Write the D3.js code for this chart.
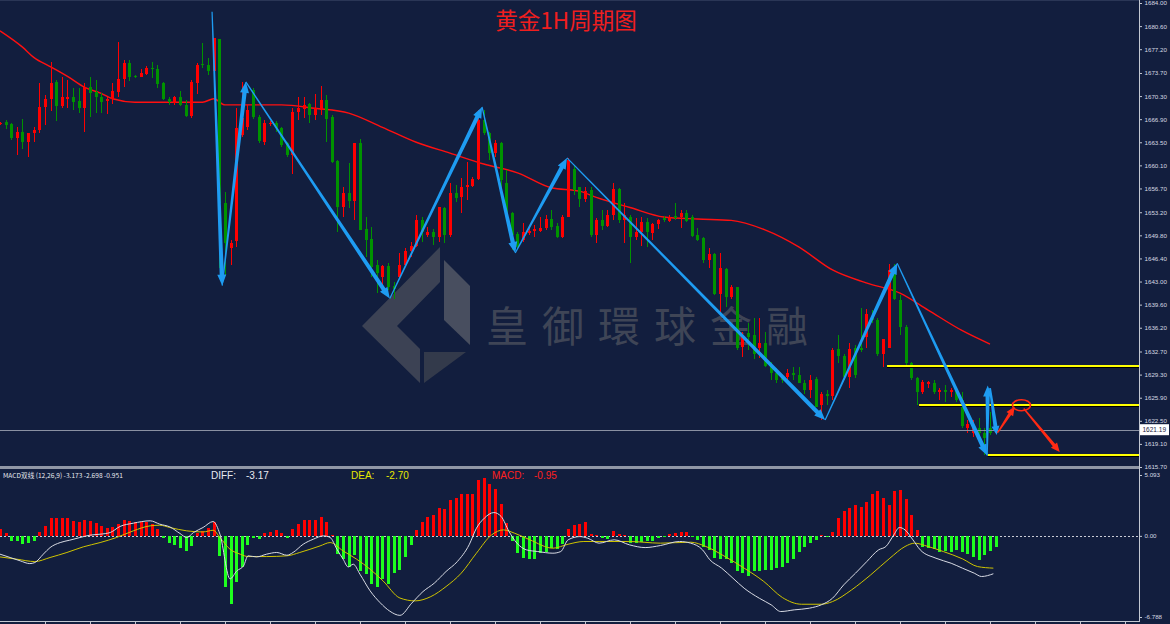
<!DOCTYPE html>
<html>
<head>
<meta charset="utf-8">
<script src="https://cdn.jsdelivr.net/npm/d3@7"></script>
<style>
  body { margin: 0; background: #121e3e; }
  svg { display: block; }
</style>
</head>
<body>
<div id="chart"></div>
<script>
// ---- data ----
const open = [1666.2,1666.5,1666.2,1664.1,1665.0,1663.5,1664.8,1665.3,1668.7,1669.9,1672.4,1668.8,1669.9,1670.1,1669.6,1668.5,1671.6,1670.9,1670.1,1669.6,
  1669.9,1670.9,1672.8,1675.2,1673.2,1673.1,1673.5,1674.4,1674.3,1672.2,1669.9,1669.3,1670.1,1669.0,1667.4,1672.2,1675.0,1674.9,1674.0,1678.7,
  1654.5,1647.9,1648.9,1664.6,1665.7,1671.2,1667.2,1663.5,1666.2,1666.3,1665.6,1663.4,1661.6,1667.9,1668.4,1669.1,1667.5,1668.2,1669.7,1667.2,
  1660.7,1653.9,1656.0,1654.8,1663.4,1650.7,1649.2,1645.4,1643.6,1645.3,1642.3,1643.6,1645.4,1647.5,1648.2,1652.0,1649.8,1650.3,1649.5,1653.8,
  1649.8,1656.0,1655.4,1656.9,1657.0,1658.1,1666.8,1664.8,1661.9,1663.4,1657.5,1653.1,1650.0,1649.1,1650.1,1650.4,1650.4,1650.9,1652.2,1651.2,
  1649.5,1652.5,1659.5,1656.9,1655.1,1656.5,1649.8,1652.0,1651.2,1652.8,1656.6,1652.0,1652.5,1649.5,1650.3,1651.7,1650.1,1651.4,1652.3,1651.9,
  1652.6,1652.5,1653.1,1652.5,1649.8,1649.4,1646.1,1647.0,1641.1,1644.8,1640.7,1642.2,1633.3,1635.4,1635.1,1633.2,1633.9,1630.7,1629.6,1628.8,
  1628.9,1629.5,1629.2,1628.0,1627.1,1628.6,1624.8,1626.5,1626.1,1633.0,1632.1,1628.9,1633.2,1633.2,1634.8,1637.7,1637.4,1632.4,1633.2,1645.1,
  1640.3,1636.3,1631.0,1628.8,1626.8,1627.9,1628.0,1626.8,1627.1,1626.7,1627.1,1625.5,1621.5,1620.7,1621.4,1620.7,1621.5,1620.7];
const high = [1666.5,1666.8,1666.3,1665.7,1666.9,1664.8,1665.7,1672.2,1670.4,1675.3,1672.7,1673.1,1672.7,1671.5,1671.5,1672.2,1673.1,1672.7,1670.7,1670.1,
  1672.2,1678.3,1675.6,1675.6,1673.4,1674.3,1674.7,1675.3,1674.9,1672.4,1670.1,1670.3,1671.0,1669.7,1672.7,1675.2,1678.1,1675.9,1678.8,1678.7,
  1656.2,1649.1,1668.5,1672.4,1669.0,1671.5,1667.5,1666.8,1666.6,1666.6,1665.7,1663.5,1668.5,1670.1,1670.1,1669.3,1670.6,1671.8,1670.4,1667.5,
  1660.9,1656.9,1660.4,1663.4,1664.0,1652.5,1651.0,1646.1,1645.4,1645.7,1643.0,1647.2,1647.9,1648.8,1652.8,1652.5,1651.0,1650.7,1653.9,1653.9,
  1657.5,1657.2,1658.2,1660.6,1658.4,1668.2,1668.2,1665.0,1663.8,1663.5,1659.4,1653.2,1650.3,1651.6,1651.0,1651.3,1652.5,1652.8,1653.5,1651.6,
  1652.8,1661.2,1660.1,1656.9,1656.9,1656.9,1652.3,1653.5,1653.5,1657.5,1656.8,1654.5,1652.8,1652.3,1652.5,1652.3,1651.6,1652.2,1652.6,1652.8,
  1654.5,1653.5,1653.5,1652.8,1650.9,1649.5,1647.9,1647.2,1647.2,1645.0,1642.5,1642.2,1635.5,1636.9,1637.6,1637.7,1635.5,1631.1,1630.2,1628.9,
  1630.1,1630.4,1630.4,1628.5,1629.3,1628.9,1626.8,1627.0,1633.2,1635.1,1632.4,1633.9,1633.6,1639.1,1638.9,1638.8,1637.7,1634.6,1645.6,1645.6,
  1641.0,1636.6,1631.1,1628.9,1628.5,1628.3,1628.5,1627.3,1627.7,1627.3,1627.3,1626.7,1622.6,1622.6,1622.9,1621.5,1623.8,1621.4];
const low = [1666.0,1665.4,1663.8,1661.6,1662.5,1661.3,1663.5,1664.8,1666.0,1668.1,1666.6,1668.5,1668.5,1668.2,1667.8,1665.0,1667.2,1667.8,1667.8,1667.6,
  1669.1,1670.1,1671.6,1672.5,1672.9,1673.1,1673.4,1672.9,1671.5,1669.7,1669.0,1669.0,1668.8,1667.2,1667.1,1670.6,1674.4,1673.4,1673.4,1645.0,
  1643.9,1645.4,1648.1,1664.3,1665.3,1666.9,1663.4,1663.1,1665.9,1665.0,1662.8,1661.3,1658.9,1666.8,1667.1,1666.3,1666.8,1667.5,1663.5,1660.4,
  1650.3,1652.5,1653.8,1652.0,1650.6,1646.6,1643.6,1641.3,1641.3,1641.7,1640.5,1643.5,1645.1,1646.6,1648.1,1648.8,1649.5,1648.4,1648.8,1648.6,
  1649.5,1654.7,1653.1,1655.0,1656.9,1657.9,1664.6,1660.9,1661.3,1656.2,1652.8,1647.6,1647.9,1648.8,1649.8,1649.5,1650.3,1650.6,1650.6,1649.4,
  1649.4,1652.5,1655.7,1653.9,1654.7,1649.5,1648.6,1650.6,1651.0,1652.0,1651.6,1648.6,1645.7,1649.1,1648.2,1648.1,1649.1,1650.7,1651.7,1651.7,
  1652.0,1650.9,1651.7,1649.5,1648.9,1645.8,1645.0,1641.0,1638.3,1639.2,1640.5,1632.9,1631.9,1632.9,1631.6,1631.7,1630.4,1628.5,1628.0,1628.0,
  1628.0,1628.5,1628.0,1626.5,1625.8,1624.5,1622.6,1624.8,1625.5,1631.0,1628.5,1627.3,1628.8,1632.6,1633.2,1636.9,1632.1,1630.4,1633.2,1640.3,
  1635.1,1630.7,1628.5,1624.8,1626.5,1627.4,1626.5,1625.5,1625.2,1626.0,1625.2,1621.5,1620.7,1620.1,1619.6,1617.4,1620.4,1620.5];
const close = [1666.3,1666.0,1664.1,1665.0,1663.5,1664.8,1665.3,1668.7,1669.9,1672.2,1668.8,1670.1,1670.1,1669.4,1668.5,1671.6,1670.7,1670.1,1669.4,1669.9,
  1671.0,1672.8,1675.2,1673.1,1673.1,1673.7,1674.4,1674.3,1672.1,1669.9,1669.4,1670.1,1669.0,1667.4,1672.4,1674.9,1674.9,1674.0,1678.8,1654.5,
  1648.6,1648.6,1665.6,1667.1,1668.2,1667.2,1663.7,1666.3,1666.3,1665.6,1663.1,1661.6,1667.9,1668.5,1669.0,1667.5,1668.5,1669.7,1666.9,1660.6,
  1653.9,1656.0,1654.8,1663.4,1650.6,1649.1,1645.1,1644.2,1645.3,1642.2,1641.9,1645.4,1647.5,1648.2,1652.0,1650.3,1650.3,1649.5,1653.9,1649.8,
  1656.0,1655.3,1656.9,1657.2,1658.1,1666.8,1664.8,1661.9,1663.4,1657.9,1653.1,1649.8,1648.1,1650.3,1650.4,1650.7,1650.9,1652.2,1651.0,1649.5,
  1652.5,1660.9,1656.5,1655.1,1656.3,1649.8,1652.0,1651.2,1652.8,1656.6,1652.0,1652.8,1649.5,1650.3,1651.7,1650.3,1651.4,1652.0,1652.0,1652.5,
  1652.3,1653.1,1651.9,1649.7,1649.1,1646.1,1647.0,1641.1,1645.0,1640.7,1642.2,1633.2,1634.8,1634.8,1632.4,1633.9,1630.5,1629.6,1628.5,1628.5,
  1629.6,1629.2,1628.0,1627.0,1628.5,1624.6,1626.5,1626.1,1632.9,1632.1,1628.9,1633.0,1629.2,1632.9,1638.2,1637.4,1632.4,1634.6,1644.7,1640.4,
  1636.3,1631.0,1628.8,1626.7,1628.2,1628.2,1626.8,1627.1,1626.8,1627.1,1625.5,1621.8,1622.0,1621.5,1620.7,1619.9,1620.7,1621.2];

// moving average, sampled [candle index, price]
const maPts = [[0,1679.9],[4,1677.5],[6,1676.0],[9,1674.6],[12,1673.2],[15,1671.6],[18,1670.7],[20,1669.9],[24,1669.4],[30,1669.4],
  [36,1669.4],[38,1669.9],[40,1669.0],[44,1669.0],[50,1669.0],[56,1668.5],[62,1667.8],[68,1665.7],[74,1663.5],[80,1661.9],
  [86,1660.3],[92,1659.0],[98,1656.8],[103,1656.3],[106,1655.4],[112,1653.9],[118,1652.5],[124,1652.2],[130,1652.0],[136,1650.6],
  [142,1648.1],[148,1644.7],[154,1642.8],[160,1641.3],[165,1638.8],[171,1635.8],[176,1633.8]];

const macdHist = [0.55,0.2,-0.4,-0.45,-0.7,-0.6,-0.4,0.3,0.84,1.53, 1.53,1.53,1.53,1.26,1.12,1.31,1.26,1.06,0.84,0.7,
  0.75,0.98,1.34,1.26,1.17,1.2,1.12,0.98,0.56,-0.14, -0.61,-0.75,-0.98,-1.26,-0.84,0.2,0.4,0.65,1.2,-1.67,
  -4.3,-5.66,-3.9,-2.6,-0.78,-0.2,-0.28,0.2,0.36,0.47, 0.22,-0.2,0.56,1.03,1.34,1.34,1.34,1.59,1.12,0.1,
  -1.53,-1.95,-2.6,-1.6,-2.93,-3.2,-4.0,-4.3,-3.6,-4.0, -3.07,-2.85,-1.8,-0.8,0.5,1.14,1.56,1.76,2.37,2.26,
  2.96,3.2,3.49,3.54,3.54,4.66,4.88,4.32,3.93,2.65, 1.06,-0.42,-1.45,-1.87,-1.92,-1.92,-1.45,-1.31,-0.98,-1.09,
  -0.7,0.56,0.92,0.98,1.12,0.14,0.05,-0.2,-0.25,0.42, 0.14,0.08,-0.6,-0.6,-0.53,-0.47,-0.42,-0.2,-0.1,0.14,
  0.22,0.36,0.36,-0.1,-0.33,-0.9,-1.17,-1.87,-1.92,-1.92, -2.29,-2.98,-3.12,-3.32,-2.98,-2.93,-2.85,-2.85,-2.7,-2.57,
  -2.29,-1.92,-1.31,-0.9,-0.6,-0.33,0.05,-0.1,0.36,1.48, 2.12,2.37,2.59,2.45,2.87,3.49,3.77,3.15,2.59,3.77,
  3.85,3.1,1.76,0.5,-0.9,-1.03,-1.09,-1.37,-1.26,-1.31, -1.17,-1.37,-1.53,-1.73,-2.0,-1.59,-1.26,-0.95];

const diffPts = [[0,-1.53],[1.8,-1.81],[3.6,-2.09],[5.3,-2.32],[6.2,-2.23],[7.7,-1.53],[8.9,-0.98],[10.7,-0.56],[12.4,-0.36],[14.2,-0.14],
  [16,0.06],[17.8,0.14],[19.6,0.28],[21.3,0.78],[23.7,1.06],[26.7,1.26],[28.4,0.98],[30.2,0.75],[32,0.2],[33.2,-0.14],
  [34.4,0.28],[36.1,0.7],[37.9,1.2],[39.1,0.14],[40.9,-3.6],[42.1,-2.93],[43.3,-2.51],[44.1,-1.67],[45.6,-1.76],[47.4,-1.53],
  [49.2,-1.39],[51,-1.62],[52.1,-1.39],[53.9,-0.7],[55.7,-0.28],[57.5,0.0],[58.7,-0.14],[59.9,-1.12],[61,-1.95],[61.9,-2.6],
  [62.8,-2.37],[64,-3.21],[65.8,-4.6],[67.6,-5.6],[69.3,-6.3],[71.1,-6.65],[73.2,-5.63],[75.2,-4.66],[77.2,-3.96],[79.3,-2.98],
  [81.3,-2.15],[83.4,-0.75],[84.7,0.64],[86.1,1.48],[87.8,1.95],[89.1,1.62],[90.5,0.36],[91.9,-0.61],[93.6,-1.17],[95.6,-1.31],
  [98.3,-1.45],[99.7,-1.31],[101,-0.33],[103.1,-0.06],[104.5,-0.2],[106.5,-0.61],[109.2,-0.33],[111.9,-0.75],[114.7,-0.98],[117.4,-0.81],
  [120.8,-0.47],[122.8,-0.61],[124.9,-1.17],[126.2,-2.0],[128.3,-2.7],[130.3,-3.54],[132.3,-4.38],[135,-5.22],[137.1,-5.77],[138.8,-6.33],
  [141.2,-6.19],[143.9,-6.05],[146,-5.77],[148,-5.22],[150,-4.1],[152.1,-3.12],[154.1,-2.15],[156.2,-1.17],[157.5,-0.89],[158.9,0.08],
  [159.9,0.7],[160.9,0.5],[162.3,-0.33],[163.6,-1.17],[166.4,-1.87],[169.1,-2.29],[171.1,-2.7],[173.2,-3.12],[174.5,-3.4],[176.6,-3.17]];

const deaPts = [[0,-1.76],[3,-1.95],[6.2,-2.15],[8.9,-1.81],[11.9,-1.39],[14.8,-0.92],[17.8,-0.56],[20.7,-0.14],[23.7,0.42],[26.7,0.84],
  [28.4,0.89],[30.2,0.7],[33.2,0.42],[36.1,0.33],[37.9,0.47],[39.1,-0.14],[40.9,-1.12],[42.7,-1.53],[44.1,-1.73],[47.4,-1.73],
  [51,-1.67],[53.3,-1.39],[56.9,-0.84],[58.7,-0.56],[61,-1.26],[63.4,-1.95],[65.8,-2.79],[68.1,-3.77],[71.1,-5.2],[73.8,-5.44],
  [76.6,-5.08],[79.3,-4.24],[82,-3.12],[84.7,-1.45],[87.4,0.08],[89.5,0.5],[91.5,0.22],[94.2,-0.33],[98.3,-1.03],[101,-0.7],
  [103.8,-0.47],[106.5,-0.47],[111.9,-0.47],[117.4,-0.61],[122.8,-0.53],[125.5,-0.89],[128.9,-1.73],[132.3,-2.7],[135.8,-3.82],[139.1,-5.16],
  [142.5,-5.72],[146,-5.72],[148,-5.5],[151.4,-4.52],[154.8,-3.26],[158.2,-1.87],[160.9,-0.89],[162.6,-0.61],[165,-0.89],[167.7,-1.31],
  [171.1,-1.92],[173.8,-2.57],[176.6,-2.7]];

// drawn annotations, [candle index, price]
const zigzag = [[37.7,1682.7],[39.5,1642.4],[43.7,1672.4],[69.3,1640.5],[85.7,1668.7],[91.6,1647.2],[100.8,1661.2],
  [146.7,1622.6],[159.5,1645.7],[175.5,1617.4],[175.6,1627.7]];
const zigzagLast = [[176.0,1627.3],[177.2,1620.4]];
const forecast = [[[177.4,1620.8],[180.4,1624.6]], [[182.0,1624.3],[188.4,1617.9]]];
const forecastRing = [181.6, 1624.8];
const levels = [[157.7,1630.5],[163.4,1624.8],[175.6,1617.4]];
const lastPrice = 1621.19;

const priceTicks = [1684.00,1680.60,1677.20,1673.70,1670.30,1666.90,1663.50,1660.10,1656.70,1653.20,1649.80,
  1646.40,1643.00,1639.60,1636.20,1632.70,1629.30,1625.90,1622.50,1619.10,1615.70];
const macdTicks = [5.093, 0, -6.788];
const macdTickText = ['5.093', '0.00', '-6.788'];
const macdParams = 'MACD双线 (12,26,9) -3.173 -2.698 -0.951';
const macdNow = { diff: '-3.17', dea: '-2.70', macd: '-0.95' };

// ---- layout ----
const W = 1170, H = 624;
const axisX = 1139;
const bg = '#121e3e';

const svg = d3.select('#chart').append('svg')
  .attr('width', W).attr('height', H)
  .style('background', bg);

const x = d3.scaleLinear().domain([0, open.length - 1]).range([0, 995.6]);
const y = d3.scaleLinear().domain([1615.7, 1684.0]).range([467, 3]);
const ym = d3.scaleLinear().domain([-6.788, 5.093]).range([617, 475]);

const main = svg.append('g');
svg.append('clipPath').attr('id', 'clipM')
  .append('rect').attr('x', 0).attr('y', 0).attr('width', axisX).attr('height', 466);
main.attr('clip-path', 'url(#clipM)');

// watermark
const wm = main.append('g').attr('fill', '#4a4f5c').attr('opacity', 0.75);
wm.append('polygon').attr('points', '362,326 440,247 440,282 397,326 420,349 420,383');
wm.append('polygon').attr('points', '444,260 470,286 470,345 444,320').attr('fill', '#5a5f6b');
wm.append('polygon').attr('points', '424,352 466,352 424,383').attr('fill', '#3f4450');
wm.append('text')
  .attr('x', 486).attr('y', 342)
  .attr('font-family', 'Noto Sans CJK TC')
  .attr('font-size', 42)
  .attr('letter-spacing', 14)
  .attr('fill', '#4e535f')
  .text('皇御環球金融');

// moving average
main.append('path')
  .datum(maPts)
  .attr('fill', 'none')
  .attr('stroke', '#ff1010')
  .attr('stroke-width', 1.4)
  .attr('d', d3.line().x(d => x(d[0])).y(d => y(d[1])).curve(d3.curveMonotoneX));

// candles
const idx = d3.range(open.length);
const candleG = main.append('g').attr('shape-rendering', 'crispEdges');
const col = i => close[i] >= open[i] ? '#ff0000' : '#009300';
candleG.selectAll('.wick').data(idx).join('line')
  .attr('class', 'wick')
  .attr('x1', i => Math.round(x(i)) + 0.5).attr('x2', i => Math.round(x(i)) + 0.5)
  .attr('y1', i => y(high[i])).attr('y2', i => y(low[i]))
  .attr('stroke', col).attr('stroke-width', 1);
candleG.selectAll('.body').data(idx).join('rect')
  .attr('class', 'body')
  .attr('x', i => Math.round(x(i)) - 1)
  .attr('width', 3)
  .attr('y', i => y(Math.max(open[i], close[i])))
  .attr('height', i => Math.max(1, Math.abs(y(open[i]) - y(close[i]))))
  .attr('fill', col);

// last price line
main.append('line')
  .attr('x1', 0).attr('x2', axisX)
  .attr('y1', Math.round(y(lastPrice)) + 0.5).attr('y2', Math.round(y(lastPrice)) + 0.5)
  .attr('stroke', '#8a91a2').attr('stroke-width', 1);

// support / resistance levels
levels.forEach(l => {
  const yy = Math.round(y(l[1]));
  main.append('line').attr('x1', x(l[0])).attr('x2', axisX).attr('y1', yy + 1.5).attr('y2', yy + 1.5)
    .attr('stroke', '#000000').attr('stroke-width', 1.2);
  main.append('line').attr('x1', x(l[0])).attr('x2', axisX).attr('y1', yy).attr('y2', yy)
    .attr('stroke', '#ffff00').attr('stroke-width', 1.8);
});

// tapered arrow polygon from tail a to head b
function arrow(a, b, w0, w1, hw, hl) {
  const dx = b[0] - a[0], dy = b[1] - a[1], L = Math.hypot(dx, dy);
  const ux = dx / L, uy = dy / L, nx = -uy, ny = ux;
  const cx = b[0] - ux * hl, cy = b[1] - uy * hl;
  return [
    [a[0] + nx * w0 / 2, a[1] + ny * w0 / 2],
    [cx + nx * w1 / 2, cy + ny * w1 / 2],
    [cx + nx * hw / 2, cy + ny * hw / 2],
    b,
    [cx - nx * hw / 2, cy - ny * hw / 2],
    [cx - nx * w1 / 2, cy - ny * w1 / 2],
    [a[0] - nx * w0 / 2, a[1] - ny * w0 / 2]
  ].map(p => p.join(',')).join(' ');
}
const px = d => [x(d[0]), y(d[1])];

const blue = '#1e9cf2';
const arrowsG = main.append('g');
for (let k = 0; k < zigzag.length - 1; k++) {
  arrowsG.append('polygon')
    .attr('points', arrow(px(zigzag[k]), px(zigzag[k + 1]), 1.2, 4.2, 9, 11))
    .attr('fill', blue);
}
arrowsG.append('polygon')
  .attr('points', arrow(px(zigzagLast[0]), px(zigzagLast[1]), 2, 4, 8, 9))
  .attr('fill', blue);

const red = '#ff2a14';
forecast.forEach(seg => {
  arrowsG.append('polygon')
    .attr('points', arrow(px(seg[0]), px(seg[1]), 1.5, 3.2, 8, 9))
    .attr('fill', red);
});
arrowsG.append('ellipse')
  .attr('cx', x(forecastRing[0])).attr('cy', y(forecastRing[1]))
  .attr('rx', 9).attr('ry', 5.5)
  .attr('fill', 'none').attr('stroke', red).attr('stroke-width', 1.6);

// title
svg.append('text')
  .attr('x', 566).attr('y', 29)
  .attr('text-anchor', 'middle')
  .attr('font-family', 'Noto Sans CJK SC')
  .attr('font-size', 22.5)
  .attr('fill', '#f01e1e')
  .text('黄金1H周期图');

// price axis
const axisColor = '#c3c8d2';
const priceAxis = svg.append('g')
  .attr('transform', `translate(${axisX},0)`)
  .call(d3.axisRight(y).tickValues(priceTicks).tickFormat(d3.format('.2f')).tickSize(3).tickPadding(2.5));
priceAxis.select('.domain').remove();
priceAxis.selectAll('line').attr('stroke', axisColor);
priceAxis.selectAll('text').attr('fill', '#d6dae2').attr('font-size', 6.2).attr('font-family', 'Liberation Sans');

// last price tag
svg.append('rect')
  .attr('x', axisX + 1).attr('y', y(lastPrice) - 5.5)
  .attr('width', 29).attr('height', 11)
  .attr('fill', '#ffffff');
svg.append('text')
  .attr('x', axisX + 3.5).attr('y', y(lastPrice) + 2.5)
  .attr('font-size', 6.5).attr('font-family', 'Liberation Sans')
  .attr('fill', '#1a2240')
  .text(lastPrice.toFixed(2));

// panel separator and frame
svg.append('rect').attr('x', 0).attr('y', 466).attr('width', axisX).attr('height', 3).attr('fill', '#9097a6');
svg.append('line').attr('x1', axisX + 0.5).attr('x2', axisX + 0.5).attr('y1', 0).attr('y2', 622)
  .attr('stroke', axisColor).attr('stroke-width', 1);
svg.append('line').attr('x1', 0).attr('x2', axisX).attr('y1', 621.5).attr('y2', 621.5)
  .attr('stroke', axisColor).attr('stroke-width', 1);
svg.append('line').attr('x1', 0).attr('x2', axisX).attr('y1', 0.5).attr('y2', 0.5)
  .attr('stroke', '#2a3656').attr('stroke-width', 1);

// ---- MACD panel ----
const macdG = svg.append('g');
macdG.append('line')
  .attr('x1', 0).attr('x2', axisX)
  .attr('y1', Math.round(ym(0)) + 0.5).attr('y2', Math.round(ym(0)) + 0.5)
  .attr('stroke', '#c9ccd6').attr('stroke-width', 1).attr('stroke-dasharray', '2,2');

macdG.append('g').attr('shape-rendering', 'crispEdges')
  .selectAll('rect').data(idx).join('rect')
  .attr('x', i => Math.round(x(i)) - 1)
  .attr('width', 3)
  .attr('y', i => Math.min(ym(0), ym(macdHist[i])))
  .attr('height', i => Math.abs(ym(macdHist[i]) - ym(0)))
  .attr('fill', i => macdHist[i] >= 0 ? '#ff0000' : '#1eff1e');

const mline = d3.line().x(d => x(d[0])).y(d => ym(d[1])).curve(d3.curveMonotoneX);
macdG.append('path').datum(deaPts).attr('fill', 'none').attr('stroke', '#cfc400').attr('stroke-width', 1).attr('d', mline);
macdG.append('path').datum(diffPts).attr('fill', 'none').attr('stroke', '#d8dbe4').attr('stroke-width', 1).attr('d', mline);

const macdAxis = svg.append('g')
  .attr('transform', `translate(${axisX},0)`)
  .call(d3.axisRight(ym).tickValues(macdTicks).tickFormat((d, i) => macdTickText[i]).tickSize(3).tickPadding(2.5));
macdAxis.select('.domain').remove();
macdAxis.selectAll('line').attr('stroke', axisColor);
macdAxis.selectAll('text').attr('fill', '#d6dae2').attr('font-size', 6.2).attr('font-family', 'Liberation Sans');

// MACD header
svg.append('text').attr('x', 3).attr('y', 478)
  .attr('font-size', 6.6).attr('font-family', 'Noto Sans CJK SC').attr('fill', '#e8eaf0')
  .text(macdParams);
const hdr = [['DIFF:', 211, '#e8eaf0'], [macdNow.diff, 246, '#e8eaf0'],
  ['DEA:', 351, '#e6e600'], [macdNow.dea, 386, '#e6e600'],
  ['MACD:', 492, '#ff2020'], [macdNow.macd, 534, '#ff2020']];
hdr.forEach(h => svg.append('text').attr('x', h[1]).attr('y', 479)
  .attr('font-size', 10).attr('font-family', 'Liberation Sans').attr('fill', h[2]).text(h[0]));

// time axis ticks
const xTicks = d3.range(8, open.length + 24, 8);
svg.append('g').selectAll('line').data(xTicks).join('line')
  .attr('x1', d => Math.round(x(d)) + 0.5).attr('x2', d => Math.round(x(d)) + 0.5)
  .attr('y1', 621).attr('y2', 624)
  .attr('stroke', axisColor);
</script>
</body>
</html>
